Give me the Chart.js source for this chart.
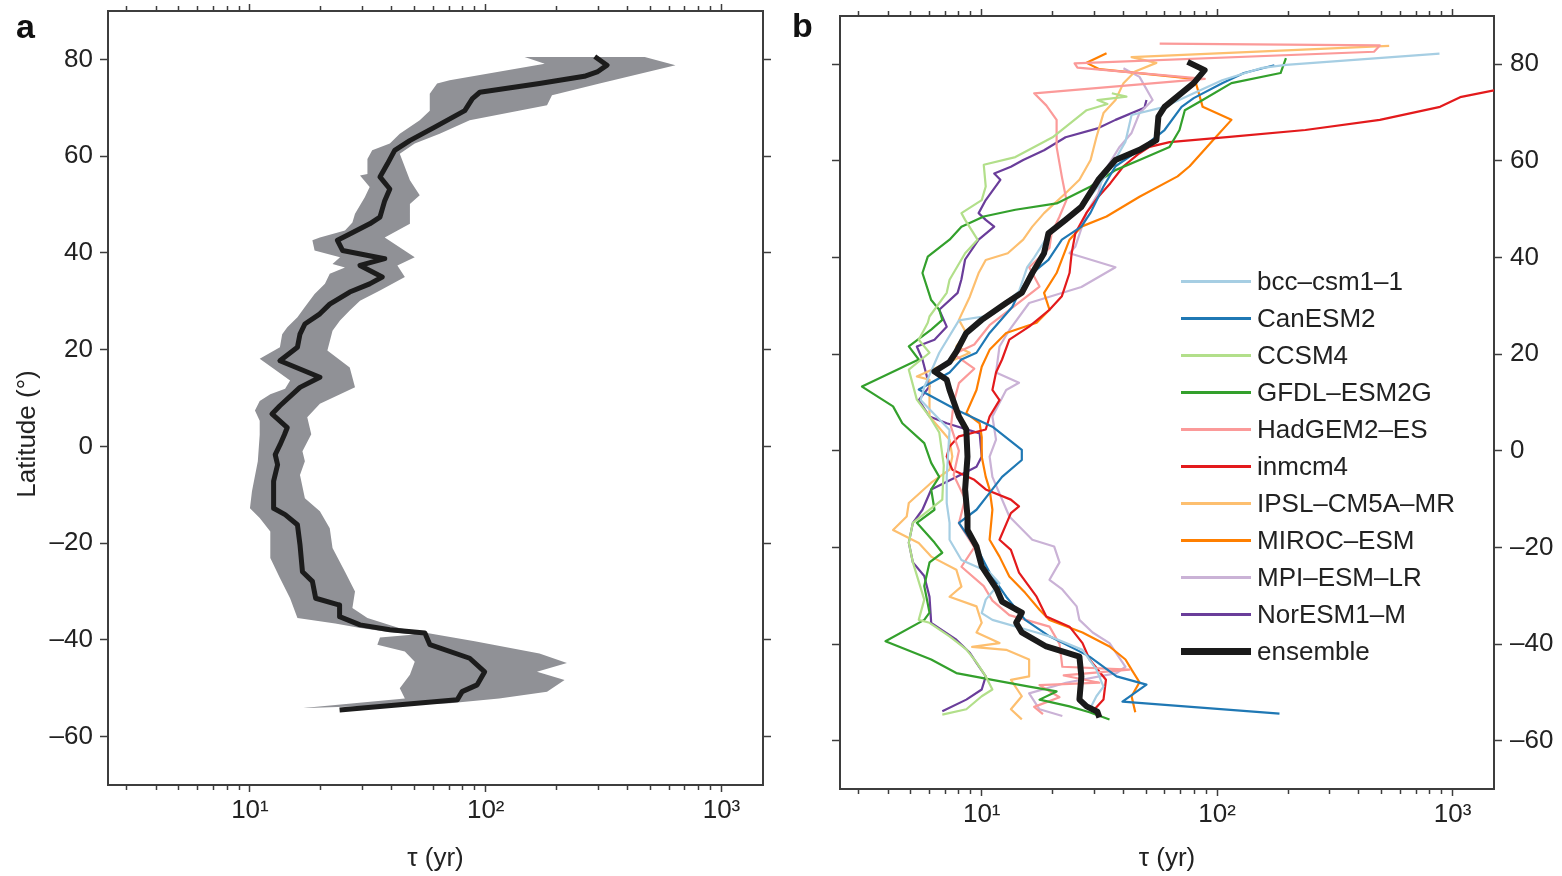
<!DOCTYPE html>
<html lang="en">
<head>
<meta charset="UTF-8" />
<title>Latitude vs τ</title>
<script src="https://cdn.jsdelivr.net/npm/chart.js"></script>
<style>
  body { margin: 0; background: #fff; font-family: 'Liberation Sans', Arial, Helvetica, sans-serif; }
  #wrap { position: relative; width: 1562px; height: 876px; overflow: hidden; background: #fff; }
  canvas { position: absolute; top: 0; }
  #chartA { left: 0; }
  #chartB { left: 780px; }
  .panel { position: absolute; font-weight: bold; font-size: 34px; line-height: 34px; color: #111; }
  #ylab { position: absolute; left: -74px; top: 419px; width: 200px; height: 30px; line-height: 30px;
          text-align: center; font-size: 26px; color: #222; transform: rotate(-90deg); white-space: nowrap; }
  #legend { position: absolute; left: 1181px; top: 263px; }
  .row { display: flex; align-items: center; height: 37px; font-size: 26px; color: #222; white-space: nowrap; }
  .swatch { width: 70px; margin-right: 6px; }
</style>
</head>
<body>
<div id="wrap">
  <canvas id="chartA" width="780" height="876"></canvas>
  <canvas id="chartB" width="782" height="876"></canvas>
  <div class="panel" style="left:16px; top:9px;">a</div>
  <div class="panel" style="left:792px; top:8px;">b</div>
  <div id="ylab">Latitude (°)</div>
  <div id="legend"></div>
</div>

<script>
  // axis ticks
  const latTicks = [-60, -40, -20, 0, 20, 40, 60, 80];
  const tauTicks = [3, 4, 5, 6, 7, 8, 9, 10, 20, 30, 40, 50, 60, 70, 80, 90,
                    100, 200, 300, 400, 500, 600, 700, 800, 900, 1000];
  const tauLabels = { 10: '10\u00b9', 100: '10\u00b2', 1000: '10\u00b3' };

  // panel a: observed tau and its spread
  const obsLat = [80.6, 78.8, 77.4, 76.5, 75.0, 73.2, 71.9, 69.4, 66.0, 63.2, 61.2, 58.4, 55.7, 53.2, 50.8,
                  47.4, 46.0, 43.9, 42.6, 40.5, 38.8, 37.4, 35.0, 33.6, 31.9, 29.4, 27.4, 25.3, 23.2, 20.5,
                  17.7, 14.3, 12.2, 8.4, 6.7, 3.9, 2.4, 0.3, -1.7, -3.8, -7.2, -12.8, -14.1, -16.2, -20.3,
                  -25.9, -27.9, -31.4, -32.8, -35.2, -36.9, -37.9, -38.6, -41.0, -43.8, -46.6, -49.3, -50.7, -52.4, -54.5];
  const obsTau = [290, 327, 297, 262, 169, 94.4, 87.8, 81.5, 60.8, 47.6, 41.1, 38.3, 35.6, 39.2, 37.3,
                  35.6, 32.2, 26.5, 23.5, 24.7, 37.3, 29.3, 36.4, 32.2, 26.5, 21.8, 19.8, 17.1, 16.3, 15.9,
                  13.4, 19.8, 16.3, 13.4, 12.4, 14.4, 14.0, 13.4, 12.8, 13.1, 12.6, 12.6, 14.1, 15.9, 16.3,
                  16.7, 18.4, 19.0, 24.0, 24.0, 29.3, 39.2, 55.2, 58.0, 85.5, 99, 92, 79.4, 75.7, 24.0];

  const bandLoLat = [80.5, 79.1, 75.7, 75.0, 72.9, 69.4, 67.4, 64.6, 62.6, 61.2, 59.4, 56.3, 56.0, 53.6, 51.5,
                     48.1, 46.3, 44.6, 43.2, 42.6, 40.5, 39.1, 37.7, 37.0, 35.7, 33.6, 31.5, 28.8, 26.7, 24.6,
                     23.2, 20.5, 18.1, 16.3, 13.6, 11.9, 10.8, 9.4, 7.4, 5.3, 2.4, -3.1, -9.3, -12.8, -14.8,
                     -17.6, -23.1, -27.2, -31.4, -35.5, -36.6, -37.5, -38.3, -38.9, -39.5, -41.0, -42.4, -44.5,
                     -47.2, -50.0, -52.1, -54.1];
  const bandLoTau = [146, 178, 70.3, 62.2, 57.9, 57.9, 52.5, 43.2, 39.2, 33.0, 31.5, 31.5, 29.3, 32.2, 30.7,
                     27.9, 27.2, 25.3, 19.8, 18.4, 18.8, 24.1, 22.4, 25.3, 21.8, 20.8, 18.8, 17.1, 15.9, 14.4,
                     13.7, 13.4, 11.0, 12.4, 14.8, 14.1, 12.2, 11.0, 10.5, 11.0, 11.0, 10.8, 10.2, 10.0, 11.0,
                     12.2, 12.2, 13.4, 14.8, 15.9, 23.0, 29.0, 38.0, 50.0, 35.6, 34.7, 45.4, 50.0,
                     47.7, 43.2, 45.4, 16.7];

  const bandHiLat = [80.5, 78.8, 75.0, 72.6, 70.5, 67.4, 64.6, 62.6, 60.5, 55.0, 51.9, 50.1, 46.0, 43.2, 39.1,
                     37.4, 35.0, 32.2, 30.1, 28.1, 26.0, 23.9, 19.8, 16.3, 12.2, 8.8, 6.0, 2.5, -1.0, -3.1,
                     -5.9, -10.7, -13.4, -16.9, -21.0, -25.9, -30.0, -33.4, -35.5, -37.6, -40.3, -42.8, -44.8,
                     -46.6, -48.3, -50.7, -52.1, -53.1, -54.1];
  const bandHiTau = [472, 638, 304, 191, 182, 85.5, 63.8, 50.0, 43.2, 47.7, 52.5, 47.7, 47.7, 37.3, 50.0,
                     42.2, 45.4, 35.6, 29.3, 26.5, 24.1, 22.4, 21.3, 26.5, 27.9, 19.8, 17.5, 18.2, 16.7, 17.1,
                     16.3, 17.1, 19.8, 21.8, 22.4, 25.3, 27.9, 27.2, 31.5, 43.2, 89.8, 169, 221,
                     165, 216, 182, 114, 70.3, 17.1];

  // panel b: models and their ensemble
  const ensLat = [80.5, 78.8, 76.1, 71.2, 69.2, 64.3, 62.3, 60.2, 56.1, 50.5, 47.8, 45.0, 40.9, 36.8, 32.7,
                  30.6, 27.1, 24.4, 20.5, 18.4, 16.4, 14.7, 12.6, 7.1, 4.4, -1.2, -8.0, -13.6, -16.4, -19.8,
                  -23.9, -28.7, -31.2, -33.5, -35.6, -37.6, -40.5, -42.6, -46.7, -51.5, -52.9, -54.0, -55.2];
  const ensTau = [74.9, 88.5, 79.5, 59.8, 56.3, 55.2, 46.8, 37.0, 31.3, 26.5, 22.7, 19.2, 18.4, 16.4, 14.8,
                  12.7, 10.0, 8.6, 7.8, 7.3, 6.3, 7.1, 7.3, 8.0, 8.6, 8.7, 8.5, 8.7, 8.7, 9.5,
                  10.0, 11.6, 12.2, 14.8, 14.0, 14.8, 18.8, 26.0, 26.5, 26.0, 27.9, 31.0, 31.6];

  const bccLat = [82.2, 79.9, 79.2, 76.7, 74.0, 71.2, 69.5, 64.0, 60.0, 55.0, 50.0, 45.0, 40.0, 38.0, 33.0,
                  28.0, 27.0, 20.3, 13.2, 10.5, 4.3, -5.4, -10.8, -14.9, -18.4, -22.6, -25.2, -27.4, -30.8,
                  -33.6, -35.0, -37.6, -38.4, -41.2, -45.3, -48.8, -50.8, -53.6];
  const bccTau = [880, 196, 153, 105, 79.5, 59.8, 43.3, 40.8, 36.6, 31.6, 26.0, 19.4, 16.7, 15.6, 14.4,
                  10.8, 8.0, 6.6, 5.7, 5.5, 7.3, 7.1, 7.1, 7.3, 7.3, 8.2, 10.8, 11.9, 10.4,
                  10.0, 11.1, 17.1, 19.4, 26.8, 30.7, 32.9, 30.7, 28.7];

  const canLat = [79.8, 78.2, 76.1, 73.0, 71.2, 66.4, 62.3, 58.9, 54.7, 49.3, 46.4, 43.7, 39.5, 36.8, 32.7,
                  29.8, 24.4, 20.3, 18.9, 16.2, 13.3, 12.7, 8.5, 5.0, 0.2, -1.9, -5.4, -8.7, -12.2, -14.9,
                  -21.2, -25.2, -30.2, -35.0, -38.4, -41.2, -42.6, -46.7, -48.4, -51.9, -54.4];
  const canTau = [175, 130, 105, 79.5, 70.6, 59.8, 46.8, 37.0, 32.9, 29.0, 26.5, 21.9, 19.2, 16.4, 14.4,
                  13.5, 10.8, 9.5, 8.2, 7.3, 5.7, 5.4, 7.8, 11.1, 14.8, 14.8, 12.2, 10.8, 9.5, 8.0,
                  9.8, 10.8, 12.7, 15.3, 19.4, 25.3, 28.7, 37.4, 50.1, 39.6, 184];

  const ccsmLat = [74.0, 73.3, 72.6, 71.8, 70.5, 64.9, 60.8, 59.2, 54.7, 51.9, 49.2, 47.8, 43.7, 40.9, 35.4,
                   32.7, 27.8, 26.5, 23.0, 20.3, 16.8, 10.6, 7.1, 3.8, -3.0, -10.1, -14.9, -19.0, -23.1, -30.8,
                   -35.0, -35.6, -38.4, -41.1, -43.8, -46.7, -49.4, -50.8, -53.5, -54.6];
  const ccsmTau = [35.7, 41.2, 31.0, 34.2, 27.9, 20.0, 13.9, 10.2, 10.4, 10.0, 8.2, 8.5, 9.6, 8.5, 7.3,
                   7.1, 6.0, 5.9, 5.4, 6.0, 4.9, 5.3, 6.0, 6.6, 6.9, 6.8, 5.1, 4.9, 5.1, 5.7,
                   5.4, 6.0, 7.3, 8.6, 9.5, 10.4, 11.1, 10.0, 8.6, 6.8];

  const gfdlLat = [81.3, 78.2, 76.1, 72.6, 70.5, 66.4, 62.9, 60.2, 58.1, 54.7, 51.2, 49.9, 48.5, 46.4, 43.7,
                   40.2, 36.8, 31.2, 29.2, 27.1, 25.1, 21.6, 18.9, 13.3, 9.2, 5.7, 1.6, -2.5, -5.4, -8.0,
                   -12.2, -14.9, -19.0, -21.1, -23.1, -28.0, -33.5, -35.0, -39.4, -43.2, -46.0, -47.4, -48.8,
                   -49.8, -51.5, -52.9, -54.1, -55.6];
  const gfdlTau = [196, 186, 115, 86.8, 72.9, 69.2, 62.8, 46.8, 37.0, 29.0, 20.8, 13.9, 10.2, 8.2, 7.3,
                   5.9, 5.6, 6.1, 6.6, 6.8, 6.1, 4.9, 5.4, 3.1, 4.2, 4.6, 5.7, 6.1, 6.6, 6.1,
                   6.3, 5.3, 6.3, 6.8, 6.0, 5.7, 6.0, 5.7, 3.9, 6.1, 7.8, 11.1, 15.9,
                   20.8, 17.6, 23.6, 28.7, 34.9];

  const hadLat = [84.3, 83.9, 82.6, 80.2, 79.3, 77.0, 74.0, 71.5, 68.5, 65.7, 62.9, 56.7, 51.9, 48.5, 45.0,
                  42.0, 38.0, 34.0, 30.0, 26.0, 22.0, 20.0, 17.0, 14.0, 10.0, 5.0, 0.0, -5.0, -10.0, -15.0,
                  -20.0, -24.0, -28.0, -31.0, -34.0, -36.4, -40.0, -44.7, -45.3, -46.5, -48.0, -48.5, -51.0,
                  -53.0, -54.5];
  const hadTau = [57, 491, 464, 24.8, 25.5, 88.6, 16.7, 18.8, 20.8, 20.8, 20.8, 21.9, 22.9, 21.4, 19.8,
                  19.4, 15.9, 17.6, 13.8, 10.8, 9.3, 7.6, 9.3, 8.0, 7.6, 7.4, 8.0, 7.6, 8.5, 8.0,
                  9.3, 8.2, 10.2, 11.1, 13.1, 19.4, 21.4, 22.0, 42.4, 22.3, 31.6, 17.6, 21.4,
                  16.7, 18.2];

  const inmLat = [76.5, 74.6, 73.2, 71.2, 68.5, 66.4, 65.0, 63.9, 62.9, 61.6, 58.9, 55.4, 52.6, 49.3, 45.1,
                  40.9, 36.8, 32.0, 29.2, 25.7, 23.0, 18.9, 16.2, 12.6, 10.5, 7.1, 4.4, 3.0, 0.9, -1.2,
                  -3.9, -6.0, -8.0, -10.1, -11.5, -12.9, -18.4, -20.5, -25.2, -30.2, -34.3, -36.4, -39.8,
                  -43.2, -47.4, -51.5, -53.9];
  const inmTau = [2300, 1500, 1077, 885, 491, 237, 113, 62.8, 51.6, 46.8, 40.0, 35.2, 31.3, 27.9, 25.0,
                  24.1, 23.6, 21.9, 19.4, 15.9, 13.1, 12.2, 11.5, 11.1, 11.9, 10.8, 10.4, 8.0, 7.3, 7.1,
                  7.5, 9.3, 10.4, 13.3, 14.4, 13.3, 11.9, 13.3, 14.4, 17.1, 18.8, 23.6, 26.8,
                  28.7, 33.7, 32.9, 29.6];

  const ipslLat = [83.8, 81.5, 80.3, 78.5, 76.1, 72.6, 69.9, 64.9, 60.2, 56.1, 53.3, 49.2, 46.4, 43.7, 40.9,
                   39.5, 36.8, 31.9, 27.1, 24.4, 21.6, 20.3, 15.4, 14.7, 7.1, 2.3, -1.2, -3.9, -6.6, -10.8,
                   -13.6, -16.4, -19.1, -21.9, -24.6, -28.1, -30.2, -32.2, -35.6, -37.6, -39.8, -40.6, -41.2,
                   -43.2, -46.7, -47.4, -50.8, -53.5, -55.6];
  const ipslTau = [538, 43.3, 55.2, 44.8, 40.0, 37.0, 32.9, 30.7, 29.0, 26.0, 22.7, 18.4, 16.4, 15.0, 12.9,
                   10.4, 9.7, 8.9, 8.0, 8.6, 7.8, 8.9, 5.3, 6.0, 6.0, 7.3, 7.5, 7.3, 6.1, 4.9,
                   4.8, 4.2, 5.4, 6.1, 7.8, 8.2, 7.3, 9.5, 10.0, 9.5, 11.9, 9.1, 12.7,
                   15.9, 15.9, 13.3, 14.8, 13.3, 14.8];

  const mirocLat = [82.3, 80.3, 79.0, 77.0, 71.2, 68.5, 64.3, 58.9, 56.8, 52.6, 48.5, 46.4, 43.7, 36.8, 32.7,
                    29.2, 26.5, 24.4, 20.9, 17.4, 12.6, 7.8, 5.7, 2.8, -1.2, -5.4, -8.0, -12.2, -18.4, -21.9,
                    -26.0, -29.4, -32.9, -35.0, -37.6, -40.5, -43.2, -45.3, -47.9, -50.8, -54.1];
  const mirocTau = [33.9, 27.9, 31.6, 80.3, 86.8, 115, 96, 76.4, 67.9, 46.8, 33.9, 26.5, 23.6, 20.8, 18.4,
                    19.4, 17.1, 12.7, 10.8, 10.0, 9.5, 8.6, 9.8, 10.0, 10.0, 10.4, 10.8, 11.1, 10.8, 11.9,
                    13.1, 15.3, 17.6, 19.4, 26.8, 34.9, 40.8, 43.3, 46.8, 43.3, 44.9];

  const mpiLat = [79.2, 77.4, 72.6, 69.9, 65.8, 62.9, 57.5, 53.3, 49.3, 42.3, 40.9, 38.0, 33.9, 30.6, 25.0,
                  21.6, 16.2, 14.1, 12.6, 7.1, 2.3, -1.2, -5.4, -13.6, -18.4, -19.8, -23.1, -26.7, -28.7,
                  -32.2, -35.0, -37.6, -39.8, -44.7, -46.0, -48.0, -50.2, -53.5, -54.9];
  const mpiTau = [40.0, 46.8, 53.2, 46.8, 43.3, 38.5, 32.9, 31.3, 27.9, 25.0, 23.6, 37.0, 26.5, 15.9, 13.1,
                  11.9, 11.5, 14.4, 12.7, 11.1, 11.5, 10.8, 11.1, 13.1, 16.4, 20.3, 21.4, 19.4, 22.0,
                  25.3, 26.0, 29.6, 34.9, 40.8, 37.4, 22.8, 15.9, 17.6, 22.0];

  const norLat = [72.6, 71.0, 68.5, 66.8, 64.9, 62.2, 60.2, 58.8, 57.4, 56.1, 51.9, 49.2, 47.8, 46.4, 43.7,
                  39.6, 35.5, 32.7, 29.2, 25.7, 23.0, 21.6, 18.9, 13.3, 10.5, 7.1, 5.7, 3.6, -1.2, -3.3,
                  -5.4, -8.0, -12.2, -14.9, -19.0, -23.1, -25.9, -30.2, -35.6, -39.1, -41.8, -43.9, -46.7,
                  -49.4, -51.5, -53.9];
  const norTau = [50.1, 49.1, 37.0, 31.3, 22.7, 18.4, 15.0, 13.3, 11.3, 12.0, 10.4, 9.7, 10.4, 11.3, 9.7,
                  8.5, 8.2, 7.9, 6.6, 7.1, 6.3, 5.3, 5.6, 6.0, 5.4, 6.0, 7.1, 9.8, 10.0, 9.5,
                  7.8, 6.1, 5.6, 5.1, 4.9, 5.1, 5.7, 6.0, 6.1, 7.8, 8.9, 9.5, 10.4,
                  10.0, 8.6, 6.8];

  const modelNames = ['bcc\u2013csm1\u20131', 'CanESM2', 'CCSM4', 'GFDL\u2013ESM2G', 'HadGEM2\u2013ES',
                      'inmcm4', 'IPSL\u2013CM5A\u2013MR', 'MIROC\u2013ESM', 'MPI\u2013ESM\u2013LR', 'NorESM1\u2013M'];
  const modelColors = ['#a6cee3', '#1f78b4', '#b2df8a', '#33a02c', '#fb9a99',
                       '#e31a1c', '#fdbf6f', '#ff7f00', '#cab2d6', '#6a3d9a'];
  const modelLats = [bccLat, canLat, ccsmLat, gfdlLat, hadLat, inmLat, ipslLat, mirocLat, mpiLat, norLat];
  const modelTaus = [bccTau, canTau, ccsmTau, gfdlTau, hadTau, inmTau, ipslTau, mirocTau, mpiTau, norTau];

  const FONT = "'Liberation Sans', Arial, Helvetica, sans-serif";
  const INK = '#222';
  const AXIS = '#3d3d3d';

  function pts(lat, tau) { return lat.map((y, i) => ({ x: tau[i], y: y })); }
  function isMajor(v) { const l = Math.log10(v); return Math.abs(l - Math.round(l)) < 1e-6; }

  function xAxis(pos, size, labelled) {
    return {
      type: 'logarithmic', axis: 'x', position: pos, min: 2.5, max: 1500, bounds: 'data',
      afterBuildTicks: s => { s.ticks = tauTicks.map(v => ({ value: v })); },
      afterFit: s => { s.height = size; s.paddingLeft = 0; s.paddingRight = 0; },
      ticks: {
        display: labelled, autoSkip: false, maxRotation: 0, minRotation: 0, padding: 3,
        color: INK, font: { family: FONT, size: 26 },
        callback: v => tauLabels[v] || ''
      },
      grid: {
        drawOnChartArea: false, tickLength: 7, tickColor: AXIS, tickWidth: 1.5,
        // minor ticks shorter: dash only the part next to the frame
        tickBorderDash: c => (!c.tick || isMajor(c.tick.value)) ? [] : (pos === 'top' ? [0, 2, 4, 20] : [4, 20])
      },
      border: { color: AXIS, width: 2 },
      title: { display: labelled, text: '\u03c4 (yr)', color: INK, font: { family: FONT, size: 26 },
               padding: { top: 0, bottom: 2 } }
    };
  }

  function yAxis(pos, size, labelled) {
    return {
      type: 'linear', axis: 'y', position: pos, min: -70, max: 90, bounds: 'data',
      afterBuildTicks: s => { s.ticks = latTicks.map(v => ({ value: v })); },
      afterFit: s => { s.width = size; s.paddingTop = 0; s.paddingBottom = 0; },
      ticks: {
        display: labelled, autoSkip: false, padding: pos === 'left' ? 7 : 8,
        color: INK, font: { family: FONT, size: 26 },
        callback: v => v < 0 ? '\u2013' + (-v) : String(v)
      },
      grid: { drawOnChartArea: false, tickLength: 8, tickColor: AXIS, tickWidth: 1.5 },
      border: { color: AXIS, width: 2 }
    };
  }

  function baseOptions(scales) {
    return {
      responsive: false,
      animation: false,
      indexAxis: 'y',
      events: [],
      layout: { padding: 0 },
      plugins: { legend: { display: false }, tooltip: { enabled: false } },
      elements: {
        point: { radius: 0, hoverRadius: 0 },
        line: { tension: 0, borderJoinStyle: 'round' }
      },
      scales: scales
    };
  }

  // Panel a
  new Chart(document.getElementById('chartA'), {
    type: 'line',
    data: {
      datasets: [
        { data: pts(obsLat, obsTau), xAxisID: 'x', yAxisID: 'y', borderColor: '#1c1c1c', borderWidth: 5, fill: false },
        { data: pts(bandLoLat, bandLoTau), xAxisID: 'x', yAxisID: 'y', borderColor: 'rgba(0,0,0,0)', borderWidth: 0, fill: false },
        { data: pts(bandHiLat, bandHiTau), xAxisID: 'x', yAxisID: 'y', borderColor: 'rgba(0,0,0,0)', borderWidth: 0,
          backgroundColor: '#909196', fill: '-1' }
      ]
    },
    options: baseOptions({
      x: xAxis('bottom', 91, true),
      x2: xAxis('top', 11, false),
      y: yAxis('left', 108, true),
      y2: yAxis('right', 17, false)
    })
  });

  // Panel b
  const bSets = [{ data: pts(ensLat, ensTau), xAxisID: 'x', yAxisID: 'y', borderColor: '#1a1a1a', borderWidth: 6, fill: false }];
  modelNames.forEach((name, i) => {
    bSets.push({ label: name, data: pts(modelLats[i], modelTaus[i]), xAxisID: 'x', yAxisID: 'y',
                 borderColor: modelColors[i], borderWidth: 2.2, fill: false });
  });

  new Chart(document.getElementById('chartB'), {
    type: 'line',
    data: { datasets: bSets },
    options: baseOptions({
      x: xAxis('bottom', 87, true),
      x2: xAxis('top', 16, false),
      y: yAxis('right', 68, true),
      y2: yAxis('left', 60, false)
    })
  });

  // legend
  const legend = document.getElementById('legend');
  function addRow(name, color, w) {
    const row = document.createElement('div');
    row.className = 'row';
    const sw = document.createElement('div');
    sw.className = 'swatch';
    sw.style.height = w + 'px';
    sw.style.background = color;
    const txt = document.createElement('span');
    txt.textContent = name;
    row.appendChild(sw);
    row.appendChild(txt);
    legend.appendChild(row);
  }
  modelNames.forEach((name, i) => addRow(name, modelColors[i], 3));
  addRow('ensemble', '#1a1a1a', 7);
</script>
</body>
</html>
